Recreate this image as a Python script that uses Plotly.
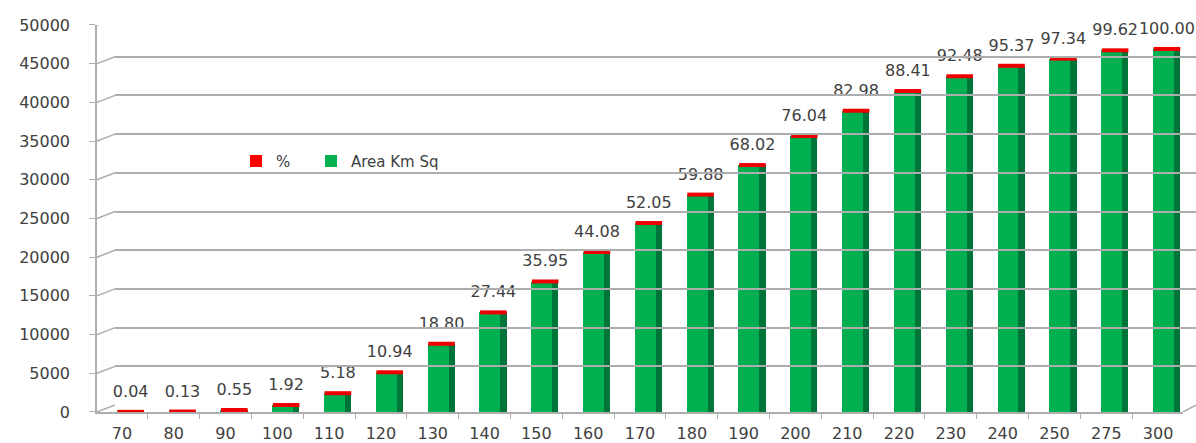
import plotly.graph_objects as go

categories = ["70", "80", "90", "100", "110", "120", "130", "140", "150", "160", "170",
              "180", "190", "200", "210", "220", "230", "240", "250", "275", "300"]
area_km_sq = [19, 61, 258, 900, 2429, 5131, 8817, 12869, 16861, 20674, 24411,
              28084, 31901, 35663, 38918, 41464, 43373, 44729, 45652, 46722, 46900]
percent = [0.04, 0.13, 0.55, 1.92, 5.18, 10.94, 18.80, 27.44, 35.95, 44.08, 52.05,
           59.88, 68.02, 76.04, 82.98, 88.41, 92.48, 95.37, 97.34, 99.62, 100.00]
y_ticks = [0, 5000, 10000, 15000, 20000, 25000, 30000, 35000, 40000, 45000, 50000]

FONT = "DejaVu Sans"
TXT = "#404040"
GRID = "#ADADAD"

fig = go.Figure()

H = 443
W = 1196
L = 97
T, B = 15, 29
ph = H - T - B
pw = W - L

def frac(px):
    return (H - B - px) / ph

def xfrac(px):
    return (px - L) / pw

FRONT_END = 1183
X_RANGE = [-0.48, 20.48]
CAP_SHIFT = 0.17   # category units: centre of front+side face

# back wall grid (separate axes, slightly raised and shifted right)
fig.add_trace(go.Scatter(x=[0, 1], y=[0, 0], xaxis="x2", yaxis="y2", mode="lines",
                         line=dict(width=0), showlegend=False, hoverinfo="skip"))

# side face of the 3D columns (dark green, behind the front face)
fig.add_trace(go.Bar(
    x=categories, y=area_km_sq, width=0.405, offset=0.02,
    marker=dict(color="#00753A", line=dict(width=0)),
    showlegend=False, hoverinfo="skip"))

# front face
fig.add_trace(go.Bar(
    x=categories, y=area_km_sq, width=0.405, offset=-0.10,
    name="Area Km Sq", legend="legend2",
    marker=dict(color="#00B050", line=dict(width=0))))

# legend entry for the % series
fig.add_trace(go.Bar(
    x=[None], y=[None], name="%", legend="legend",
    marker=dict(color="#FF0000", line=dict(width=0))))

# red cap of the % series on top of each column
fig.add_trace(go.Scatter(
    x=categories, y=area_km_sq, xaxis="x3", mode="markers",
    marker=dict(symbol="line-ew", size=19, line=dict(color="#EE0000", width=4)),
    customdata=percent, showlegend=False, hoverinfo="skip", cliponaxis=False))

# data labels (transparent marker pushes text above the column top)
fig.add_trace(go.Scatter(
    x=categories, y=area_km_sq, xaxis="x3", mode="markers+text",
    marker=dict(size=16, color="rgba(0,0,0,0)"),
    text=[f"{p:.2f}" for p in percent], textposition="top center",
    textfont=dict(family=FONT, size=16, color=TXT),
    showlegend=False, hoverinfo="skip", cliponaxis=False))

legend_common = dict(orientation="h", yanchor="middle", xanchor="left",
                     font=dict(family=FONT, size=15, color=TXT),
                     bgcolor="rgba(0,0,0,0)", itemwidth=30)

fig.update_layout(
    width=W, height=H,
    margin=dict(l=L, r=0, t=T, b=B),
    paper_bgcolor="white", plot_bgcolor="rgba(0,0,0,0)",
    barmode="overlay", bargap=0,
    font=dict(family=FONT, size=16, color=TXT),
    showlegend=True,
    legend=dict(x=xfrac(236), y=frac(162), **legend_common),
    legend2=dict(x=xfrac(311), y=frac(162), **legend_common),
    xaxis=dict(type="category", range=X_RANGE, domain=[0, xfrac(FRONT_END)],
               showgrid=False, showline=True, linecolor=GRID, linewidth=1.5,
               ticks="outside", tickson="boundaries", ticklen=5, tickcolor=GRID,
               ticklabelstandoff=6,
               tickfont=dict(family=FONT, size=16, color=TXT), fixedrange=True),
    xaxis3=dict(type="category", overlaying="x", domain=[0, xfrac(FRONT_END)], visible=False,
                categoryorder="array", categoryarray=categories,
                range=[X_RANGE[0] - CAP_SHIFT, X_RANGE[1] - CAP_SHIFT]),
    yaxis=dict(range=[0, 50000], domain=[0, frac(25)], tickvals=y_ticks,
               tickformat="d",
               showgrid=False, zeroline=False, showline=True, linecolor=GRID, linewidth=1.5,
               ticks="outside", ticklen=6, tickcolor=GRID, ticklabelstandoff=16,
               tickfont=dict(family=FONT, size=16, color=TXT)),
    xaxis2=dict(domain=[xfrac(115), 1], range=[0, 1], visible=False, anchor="y2"),
    yaxis2=dict(domain=[frac(407), frac(18)], range=[0, 50000], tickvals=y_ticks,
                showgrid=True, gridcolor=GRID, gridwidth=1.5, zeroline=False,
                showticklabels=False, showline=False, anchor="x2"),
)

# diagonal connectors from the front axis to the back wall
shift = 7 * 50000 / (H - B - 25)
for v in y_ticks:
    fig.add_shape(type="line", xref="paper", yref="y", x0=0, x1=xfrac(115),
                  y0=v, y1=v + shift, line=dict(color=GRID, width=1.5), layer="below")
# right end of the floor
fig.add_shape(type="line", xref="paper", yref="y", x0=xfrac(FRONT_END), x1=1,
              y0=0, y1=shift, line=dict(color=GRID, width=1.5), layer="below")

fig.write_html("out.html")
